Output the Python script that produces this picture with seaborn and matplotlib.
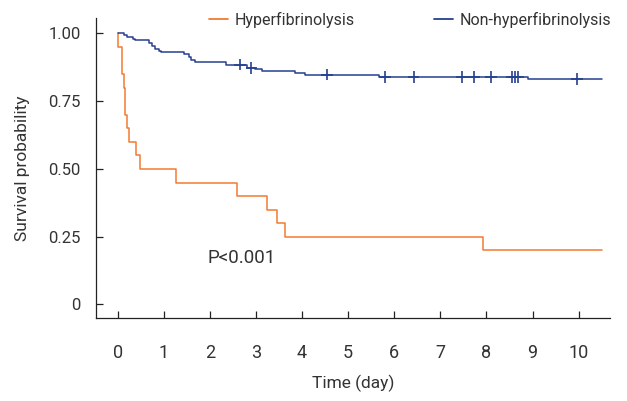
import numpy as np
import pandas as pd
import matplotlib
matplotlib.use("Agg")
import matplotlib.pyplot as plt
from matplotlib.lines import Line2D
import seaborn as sns

# ---- data ----
hyper_time = [0.0, 0.01, 0.10, 0.13, 0.16, 0.21, 0.24, 0.39, 0.49, 1.27, 2.59, 3.24, 3.45, 3.64, 7.92, 10.5]
hyper_surv = [1.00, 0.95, 0.85, 0.80, 0.70, 0.65, 0.60, 0.55, 0.50, 0.45, 0.40, 0.35, 0.30, 0.25, 0.20, 0.20]

non_time = [0.0, 0.13, 0.21, 0.33, 0.37, 0.69, 0.75, 0.81, 0.89, 0.95, 1.43, 1.54, 1.60, 1.67, 2.34,
            2.81, 2.99, 3.13, 3.84, 4.07, 5.66, 8.91, 10.5]
non_surv = [1.000, 0.993, 0.986, 0.979, 0.975, 0.965, 0.953, 0.944, 0.937, 0.931, 0.925, 0.913, 0.904,
            0.893, 0.885, 0.873, 0.869, 0.863, 0.856, 0.848, 0.840, 0.831, 0.831]

non_censor_time = [2.65, 2.90, 4.54, 5.80, 6.42, 7.47, 7.73, 8.10, 8.55, 8.62, 8.69, 9.96]
non_censor_surv = [0.885, 0.873, 0.848, 0.840, 0.840, 0.840, 0.840, 0.840, 0.840, 0.840, 0.840, 0.831]

groups = ["Hyperfibrinolysis", "Non-hyperfibrinolysis"]
x_ticks = list(range(0, 11))
y_ticks = [0, 0.25, 0.5, 0.75, 1.0]
y_tick_labels = ["0", "0.25", "0.50", "0.75", "1.00"]

colors = {"Hyperfibrinolysis": "#F37A32", "Non-hyperfibrinolysis": "#25408F"}

df = pd.concat([
    pd.DataFrame({"time": hyper_time, "surv": hyper_surv, "group": groups[0]}),
    pd.DataFrame({"time": non_time, "surv": non_surv, "group": groups[1]}),
], ignore_index=True)
cens = pd.DataFrame({"time": non_censor_time, "surv": non_censor_surv, "group": groups[1]})

sns.set_style("ticks")
plt.rcParams["font.family"] = ["Roboto", "DejaVu Sans"]

fig = plt.figure(figsize=(6.27, 4.01), dpi=100)
ax = fig.add_axes([0.153, 0.207, 0.82, 0.748])

sns.lineplot(data=df, x="time", y="surv", hue="group", palette=colors,
             drawstyle="steps-post", linewidth=1.1, ax=ax, legend=False,
             estimator=None, sort=False)
sns.scatterplot(data=cens, x="time", y="surv", hue="group", palette=colors,
                marker="+", s=70, linewidth=1.2, ax=ax, legend=False)

ax.set_xlim(-0.47, 10.68)
ax.set_ylim(-0.05, 1.057)
ax.set_xticks(x_ticks)
ax.set_xticklabels([str(t) for t in x_ticks], fontsize=13)
ax.set_yticks(y_ticks)
ax.set_yticklabels(y_tick_labels, fontsize=12)
ax.tick_params(axis="both", direction="in", length=5, width=0.9, colors="#222222",
               labelcolor="#333333")
ax.tick_params(axis="x", pad=19)
ax.tick_params(axis="y", pad=11)
sns.despine(ax=ax)
for s in ["left", "bottom"]:
    ax.spines[s].set_linewidth(0.9)
    ax.spines[s].set_color("#222222")

ax.set_xlabel("Time (day)", fontsize=12.5, color="#333333", labelpad=9)
ax.set_ylabel("Survival probability", fontsize=12.5, color="#333333", labelpad=13)

ax.text(1.96, 0.17, "P<0.001", fontsize=13.5, color="#333333", va="center", ha="left")

handles = [Line2D([], [], color=colors[g], linewidth=1.3) for g in groups]
fig.legend(handles, groups, loc="center left", bbox_to_anchor=(0.333, 0.95), ncol=2,
           frameon=False, handlelength=1.2, handletextpad=0.4, columnspacing=5.0,
           fontsize=11.5, labelcolor="#333333", borderaxespad=0, borderpad=0)

fig.savefig("out.png", dpi=100)
